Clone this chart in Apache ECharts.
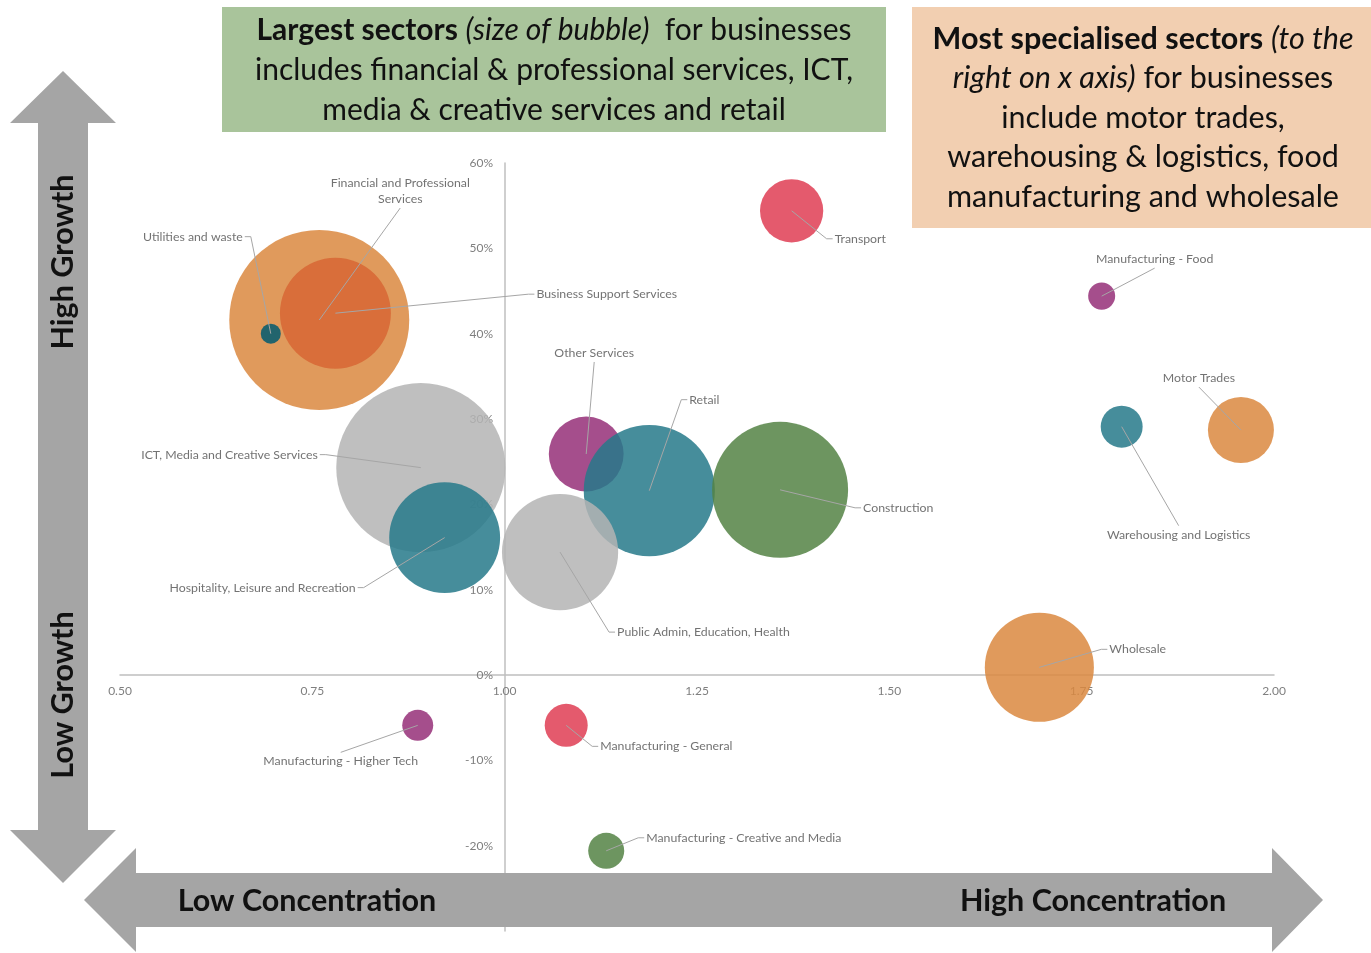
<!DOCTYPE html>
<html>
<head>
<meta charset="utf-8">
<script src="https://cdn.jsdelivr.net/npm/echarts@6/dist/echarts.min.js"></script>
<style>
html, body { margin: 0; padding: 0; background: #fff; }
#main { width: 1371px; height: 953px; }
</style>
</head>
<body>
<div id="main"></div>
<script>
// sectors, location quotient (x), growth (y), bubble size (businesses, relative)
var sectors = [
    'Financial and Professional Services', 'Business Support Services', 'Utilities and waste',
    'ICT, Media and Creative Services', 'Hospitality, Leisure and Recreation', 'Other Services',
    'Retail', 'Public Admin, Education, Health', 'Construction', 'Transport',
    'Manufacturing - Food', 'Warehousing and Logistics', 'Motor Trades', 'Wholesale',
    'Manufacturing - Higher Tech', 'Manufacturing - General', 'Manufacturing - Creative and Media'
];
var concentration = [0.759, 0.780, 0.696, 0.891, 0.922, 1.106, 1.188, 1.072, 1.358, 1.373,
    1.776, 1.802, 1.957, 1.695, 0.887, 1.080, 1.132];
var growth = [0.416, 0.424, 0.400, 0.243, 0.161, 0.259, 0.216, 0.144, 0.217, 0.544,
    0.444, 0.291, 0.287, 0.009, -0.059, -0.059, -0.206];
var bubbleSize = [324, 123, 4, 286, 123, 56, 172, 135, 185, 40, 7.3, 17.6, 43.6, 119, 9.6, 18.5, 13];

// colours and label placement (offset from bubble centre in px)
var ORANGE = '#DA883F', DARKORANGE = '#D76634', GREY = '#B4B4B4', TEAL = '#26798A',
    DARKTEAL = '#005A70', PURPLE = '#952F78', RED = '#DF3D54', GREEN = '#548344';
var sectorColors = [ORANGE, DARKORANGE, DARKTEAL, GREY, TEAL, PURPLE, TEAL, GREY, GREEN, RED,
    PURPLE, TEAL, ORANGE, ORANGE, PURPLE, RED, GREEN];
var labelOffsets = [
    [81, -129, 'center'], [201, -19, 'left'], [-28, -97, 'right'], [-103, -13, 'right'],
    [-89, 50, 'right'], [8, -101, 'center'], [40, -91, 'left'], [57, 80, 'left'],
    [83, 18, 'left'], [43, 28, 'left'], [53, -37, 'center'], [57, 108, 'center'],
    [-42, -52, 'center'], [70, -18, 'left'], [-77, 36, 'center'], [34, 21, 'left'], [40, -13, 'left']
];

var FONT = 'Lato';
var data = sectors.map(function (name, i) {
    return {
        name: name,
        value: [concentration[i], growth[i], bubbleSize[i]],
        itemStyle: { color: sectorColors[i] }
    };
});

function labelText(name) {
    return name === 'Financial and Professional Services'
        ? 'Financial and Professional\nServices' : name;
}

// leader line: from bubble centre to the label, with a short tick next to the text
function renderLeader(params, api) {
    var c = api.coord([api.value(0), api.value(1)]);
    var o = labelOffsets[params.dataIndex];
    var lx = c[0] + o[0], ly = c[1] + o[1];
    var pts;
    if (o[2] === 'left') {
        pts = [c, [lx - 8, ly], [lx - 2, ly]];
    } else if (o[2] === 'right') {
        pts = [c, [lx + 8, ly], [lx + 2, ly]];
    } else {
        var half = sectors[params.dataIndex].indexOf('Professional') > 0 ? 17 : 9;
        pts = [c, [lx, o[1] < 0 ? ly + half : ly - half]];
    }
    return {
        type: 'polyline',
        shape: { points: pts },
        style: { stroke: '#A6A6A6', lineWidth: 1, fill: null }
    };
}

var myChart = echarts.init(document.getElementById('main'));

var option = {
    backgroundColor: '#fff',
    animation: false,
    grid: { left: 120, right: 97, top: 163, bottom: 22 },
    xAxis: {
        type: 'value',
        min: 0.5,
        max: 2.0,
        interval: 0.25,
        offset: -256,
        axisLine: { onZero: false, lineStyle: { color: '#BFBFBF', width: 1.5 } },
        axisTick: { show: false },
        splitLine: { show: false },
        axisLabel: {
            color: '#7F7F7F', fontSize: 12, fontFamily: FONT, margin: 10,
            formatter: function (v) { return v.toFixed(2); }
        }
    },
    yAxis: {
        type: 'value',
        min: -0.3,
        max: 0.6,
        interval: 0.1,
        offset: -385,
        axisLine: { onZero: false, lineStyle: { color: '#BFBFBF', width: 1.5 } },
        axisTick: { show: false },
        splitLine: { show: false },
        axisLabel: {
            color: '#7F7F7F', fontSize: 12, fontFamily: FONT, margin: 12,
            formatter: function (v) {
                if (v < -0.25) return '';
                return Math.round(v * 100) + '%';
            }
        }
    },
    series: [{
        type: 'scatter',
        data: data,
        symbolSize: function (val) { return Math.sqrt(val[2]) * 10; },
        itemStyle: { opacity: 0.85 },
        emphasis: { disabled: true },
        label: {
            show: true,
            position: 'inside',
            color: '#595959',
            fontSize: 12.3,
            fontFamily: FONT,
            lineHeight: 16,
            formatter: function (p) { return labelText(p.name); }
        },
        labelLayout: function (p) {
            var o = labelOffsets[p.dataIndex];
            var cx = p.rect.x + p.rect.width / 2;
            var cy = p.rect.y + p.rect.height / 2;
            return { x: cx + o[0], y: cy + o[1], align: o[2], verticalAlign: 'middle' };
        }
    }, {
        type: 'custom',
        data: data.map(function (d) { return d.value; }),
        encode: { x: 0, y: 1 },
        renderItem: renderLeader,
        silent: true,
        clip: false,
        z: 3
    }],
    graphic: [
        {
            type: 'rect', z: 100,
            shape: { x: 222, y: 7, width: 664, height: 125 },
            style: { fill: '#A9C49B' }
        },
        {
            type: 'text', z: 101, x: 554, y: 70,
            style: {
                text: '{b|Largest sectors} {i|(size of bubble)}  for businesses\nincludes financial & professional services, ICT,\nmedia & creative services and retail',
                align: 'center', verticalAlign: 'middle',
                fontFamily: FONT, fontSize: 30, lineHeight: 40, fill: '#111',
                rich: {
                    b: { fontWeight: 'bold', fontSize: 30, fontFamily: FONT, lineHeight: 40, fill: '#111' },
                    i: { fontStyle: 'italic', fontSize: 30, fontFamily: FONT, lineHeight: 40, fill: '#111' }
                }
            }
        },
        {
            type: 'rect', z: 100,
            shape: { x: 912, y: 7, width: 460, height: 221 },
            style: { fill: '#F2CFB1' }
        },
        {
            type: 'text', z: 101, x: 1143, y: 118,
            style: {
                text: '{b|Most specialised sectors} {i|(to the}\n{i|right on x axis)} for businesses\ninclude motor trades,\nwarehousing & logistics, food\nmanufacturing and wholesale',
                align: 'center', verticalAlign: 'middle',
                fontFamily: FONT, fontSize: 30.5, lineHeight: 39.5, fill: '#111',
                rich: {
                    b: { fontWeight: 'bold', fontSize: 30.5, fontFamily: FONT, lineHeight: 39.5, fill: '#111' },
                    i: { fontStyle: 'italic', fontSize: 30.5, fontFamily: FONT, lineHeight: 39.5, fill: '#111' }
                }
            }
        },
        // vertical double arrow
        {
            type: 'polygon', z: 100,
            shape: {
                points: [[63, 71], [116, 123], [88, 123], [88, 830], [116, 830], [63, 883],
                    [10, 830], [38, 830], [38, 123], [10, 123]]
            },
            style: { fill: '#A5A5A5' }
        },
        // horizontal double arrow
        {
            type: 'polygon', z: 100,
            shape: {
                points: [[84, 900], [136, 848], [136, 873], [1272, 873], [1272, 848], [1323, 900],
                    [1272, 952], [1272, 927], [136, 927], [136, 952]]
            },
            style: { fill: '#A5A5A5' }
        },
        {
            type: 'text', z: 101, x: 63, y: 262, rotation: Math.PI / 2,
            style: { text: 'High Growth', align: 'center', verticalAlign: 'middle',
                fontFamily: FONT, fontWeight: 'bold', fontSize: 30.5, fill: '#111' }
        },
        {
            type: 'text', z: 101, x: 63, y: 695, rotation: Math.PI / 2,
            style: { text: 'Low Growth', align: 'center', verticalAlign: 'middle',
                fontFamily: FONT, fontWeight: 'bold', fontSize: 30.5, fill: '#111' }
        },
        {
            type: 'text', z: 101, x: 307, y: 901,
            style: { text: 'Low Concentration', align: 'center', verticalAlign: 'middle',
                fontFamily: FONT, fontWeight: 'bold', fontSize: 30.5, fill: '#111' }
        },
        {
            type: 'text', z: 101, x: 1093, y: 901,
            style: { text: 'High Concentration', align: 'center', verticalAlign: 'middle',
                fontFamily: FONT, fontWeight: 'bold', fontSize: 30.5, fill: '#111' }
        }
    ]
};

myChart.setOption(option);
</script>
</body>
</html>
